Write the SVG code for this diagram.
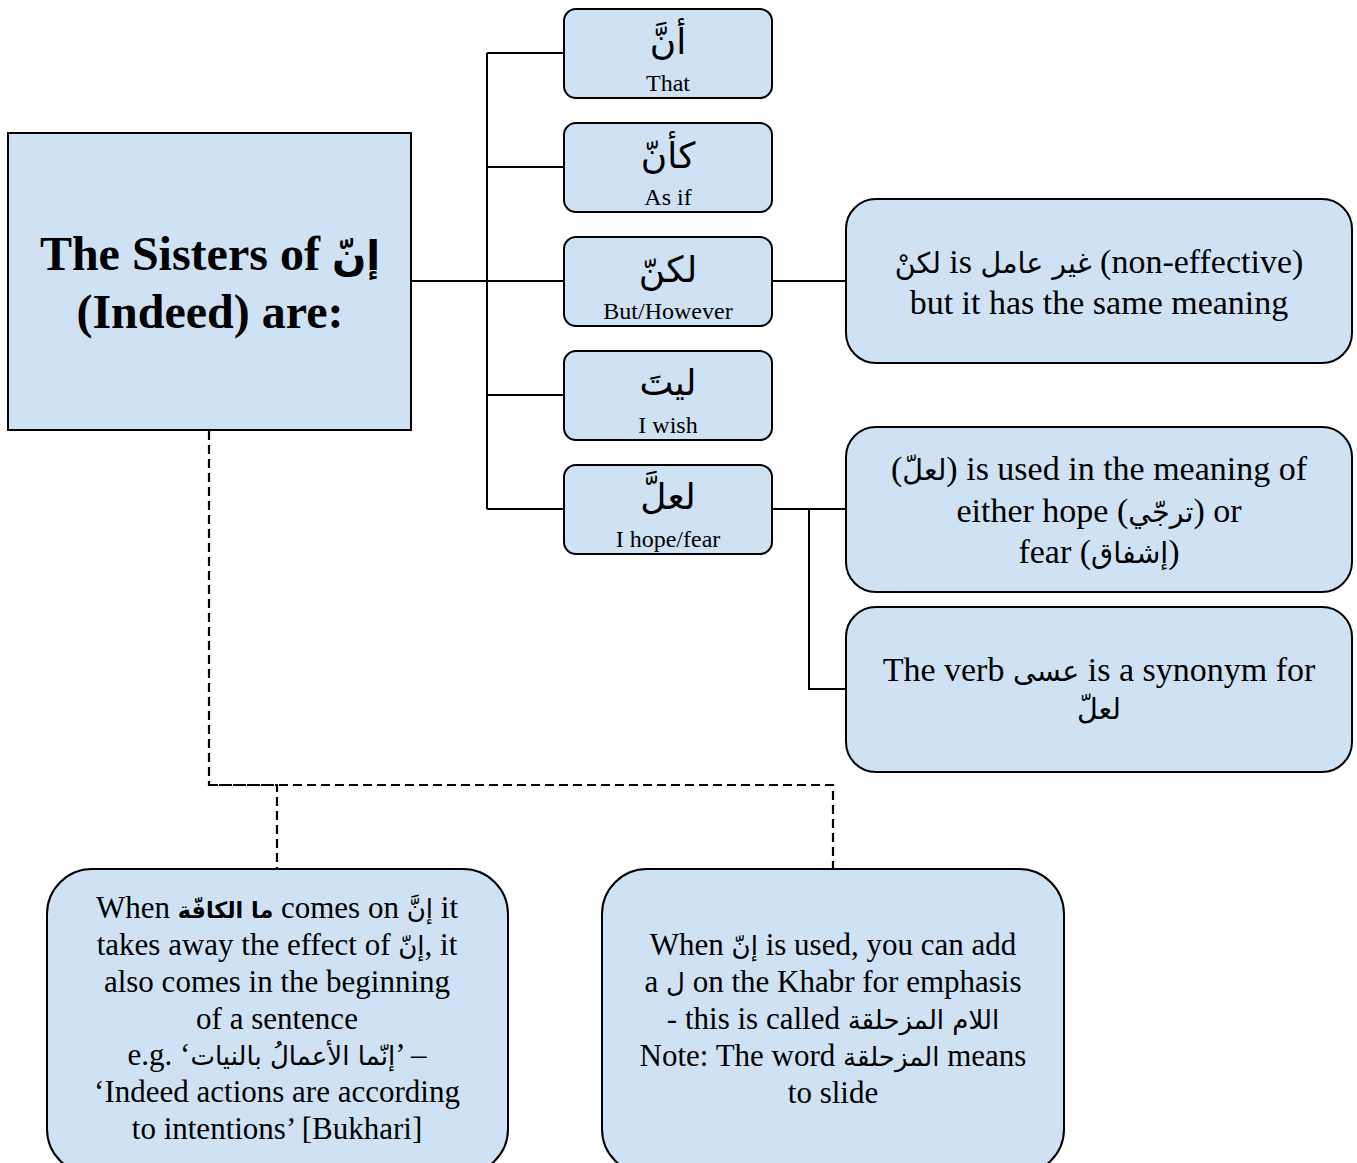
<svg xmlns="http://www.w3.org/2000/svg" width="1357" height="1163" viewBox="0 0 1357 1163">
  <style>
    .box { fill: #cfe2f3; stroke: #000; stroke-width: 2; }
    .wire { fill: none; stroke: #000; stroke-width: 2; }
    .dash { fill: none; stroke: #000; stroke-width: 2.2; stroke-dasharray: 9 5; }
    text { font-family: "Liberation Serif", "DejaVu Sans", serif; fill: #000; text-anchor: middle; }
    .title { font-size: 48px; font-weight: bold; }
    .ar { font-family: "DejaVu Sans", "Liberation Serif", sans-serif; font-size: 36px; }
    .a { font-family: "DejaVu Sans", "Liberation Serif", sans-serif; font-size: 0.84em; }
    .ab { font-family: "DejaVu Sans", "Liberation Serif", sans-serif; font-size: 0.72em; font-weight: bold; }
    .lbl { font-size: 24px; }
    .note { font-size: 34px; }
    .foot { font-size: 31px; }
  </style>
  <rect width="1357" height="1163" fill="#fff"/>

  <g id="connectors">
    <path class="wire" d="M411 281H487M487 53V509M487 53H564M487 167H564M487 281H564M487 395H564M487 509H564"/>
    <path class="wire" d="M772 281H846"/>
    <path class="wire" d="M772 509H846M809 509V689H846"/>
    <path class="dash" d="M209 431V785H277V868"/>
    <path class="dash" d="M209 785H833V868"/>
  </g>

  <g id="main">
    <rect class="box" x="8" y="133" width="403" height="297"/>
    <text class="title" x="210" y="270">The Sisters of <tspan class="a">إنّ</tspan></text>
    <text class="title" x="210" y="328">(Indeed) are:</text>
  </g>

  <g id="anna">
    <rect class="box" x="564" y="9" width="208" height="89" rx="12"/>
    <text class="ar" x="668" y="54">أنَّ</text>
    <text class="lbl" x="668" y="91">That</text>
  </g>
  <g id="kaanna">
    <rect class="box" x="564" y="123" width="208" height="89" rx="12"/>
    <text class="ar" x="668" y="168">كأنّ</text>
    <text class="lbl" x="668" y="205">As if</text>
  </g>
  <g id="lakinna">
    <rect class="box" x="564" y="237" width="208" height="89" rx="12"/>
    <text class="ar" x="668" y="282">لكنّ</text>
    <text class="lbl" x="668" y="319">But/However</text>
  </g>
  <g id="layta">
    <rect class="box" x="564" y="351" width="208" height="89" rx="12"/>
    <text class="ar" x="668" y="395">ليتَ</text>
    <text class="lbl" x="668" y="433">I wish</text>
  </g>
  <g id="laalla">
    <rect class="box" x="564" y="465" width="208" height="89" rx="12"/>
    <text class="ar" x="668" y="509">لعلَّ</text>
    <text class="lbl" x="668" y="547">I hope/fear</text>
  </g>

  <g id="lakin-note">
    <rect class="box" x="846" y="199" width="506" height="164" rx="30"/>
    <text class="note" x="1099" y="273"><tspan class="a">لكنْ</tspan> is <tspan class="a">غير عامل</tspan> (non-effective)</text>
    <text class="note" x="1099" y="314">but it has the same meaning</text>
  </g>
  <g id="laalla-note">
    <rect class="box" x="846" y="427" width="506" height="165" rx="30"/>
    <text class="note" x="1099" y="480">(<tspan class="a">لعلّ</tspan>) is used in the meaning of</text>
    <text class="note" x="1099" y="522">either hope (<tspan class="a">ترجّي</tspan>) or</text>
    <text class="note" x="1099" y="563">fear (<tspan class="a">إشفاق</tspan>)</text>
  </g>
  <g id="asa-note">
    <rect class="box" x="846" y="607" width="506" height="165" rx="30"/>
    <text class="note" x="1099" y="681">The verb <tspan class="a">عسى</tspan> is a synonym for</text>
    <text class="note" x="1099" y="719"><tspan class="a">لعلّ</tspan></text>
  </g>

  <g id="ma-kaaffa">
    <rect class="box" x="47" y="869" width="461" height="305" rx="45"/>
    <text class="foot" x="277" y="918">When <tspan class="ab">ما الكافّة</tspan> comes on <tspan class="a">إنَّ</tspan> it</text>
    <text class="foot" x="277" y="955">takes away the effect of <tspan class="a">إنّ</tspan>, it</text>
    <text class="foot" x="277" y="992">also comes in the beginning</text>
    <text class="foot" x="277" y="1029">of a sentence</text>
    <text class="foot" x="277" y="1065">e.g. ‘<tspan class="a">إنّما الأعمالُ بالنيات</tspan>’ –</text>
    <text class="foot" x="277" y="1102">‘Indeed actions are according</text>
    <text class="foot" x="277" y="1139">to intentions’ [Bukhari]</text>
  </g>
  <g id="lam-muzahlaqa">
    <rect class="box" x="602" y="869" width="462" height="305" rx="45"/>
    <text class="foot" x="833" y="955">When <tspan class="a">إنّ</tspan> is used, you can add</text>
    <text class="foot" x="833" y="992">a <tspan class="a">ل</tspan> on the Khabr for emphasis</text>
    <text class="foot" x="833" y="1029">- this is called <tspan class="a">اللام المزحلقة</tspan></text>
    <text class="foot" x="833" y="1066">Note: The word <tspan class="a">المزحلقة</tspan> means</text>
    <text class="foot" x="833" y="1103">to slide</text>
  </g>
</svg>
